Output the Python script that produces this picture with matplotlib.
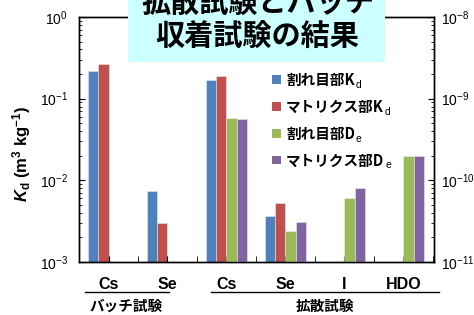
import matplotlib
matplotlib.use("Agg")
import matplotlib.pyplot as plt
import matplotlib.transforms as mtransforms
from matplotlib.patches import Rectangle
import numpy as np

plt.rcParams['font.family'] = ['Liberation Sans', 'Noto Sans CJK JP', 'DejaVu Sans']
plt.rcParams['mathtext.fontset'] = 'custom'
plt.rcParams['mathtext.rm'] = 'Liberation Sans'
plt.rcParams['mathtext.bf'] = 'Liberation Sans:bold'
plt.rcParams['mathtext.it'] = 'Liberation Sans:italic'
try:
    plt.rcParams['mathtext.bfit'] = 'Liberation Sans:bold:italic'
except KeyError:
    pass

CJK = ['Noto Sans CJK JP', 'DejaVu Sans']

# data
groups = ['Cs', 'Se', 'Cs', 'Se', 'I', 'HDO']
kd_fracture = [0.22, 0.0074, 0.17, 0.0037, np.nan, np.nan]
kd_matrix = [0.267, 0.0030, 0.19, 0.0052, np.nan, np.nan]
de_fracture = [np.nan, np.nan, 5.8e-10, 2.4e-11, 6.0e-11, 2.0e-10]
de_matrix = [np.nan, np.nan, 5.6e-10, 3.1e-11, 8.1e-11, 2.0e-10]
series_names = ['割れ目部K', 'マトリクス部K', '割れ目部D', 'マトリクス部D']
series_subs = ['d', 'd', 'e', 'e']
colors = ['#4F81BD', '#C0504D', '#9BBB59', '#8064A2']
test_names = ['バッチ試験', '拡散試験']

fig = plt.figure(figsize=(4.74, 3.15), dpi=100)
ax = fig.add_axes([0.1667, 0.1683, 0.749, 0.778])
ax2 = ax.twinx()

x = np.arange(len(groups))
w = 0.177
offs = [-1.5 * w, -0.5 * w, 0.5 * w, 1.5 * w]
edge = (1, 1, 1, 0.45)

ax.set_yscale('log')
ax2.set_yscale('log')
ax.bar(x + offs[0], kd_fracture, w, color=colors[0], edgecolor=edge, linewidth=0.6)
ax.bar(x + offs[1], kd_matrix, w, color=colors[1], edgecolor=edge, linewidth=0.6)
ax2.bar(x + offs[2], de_fracture, w, color=colors[2], edgecolor=edge, linewidth=0.6)
ax2.bar(x + offs[3], de_matrix, w, color=colors[3], edgecolor=edge, linewidth=0.6)

ax.set_ylim(1e-3, 1)
ax2.set_ylim(1e-11, 1e-8)
ax.set_xlim(-0.47, 5.52)

ax.set_xticks(x)
ax.set_xticklabels(groups, fontsize=11.5, fontweight='bold')
ax.set_xticks(np.arange(-0.5, 5.6, 0.5), minor=True)
ax.tick_params(axis='x', which='both', direction='in', length=4, pad=11)
ax.tick_params(axis='y', which='major', direction='in', length=4, labelsize=10, pad=8)
ax.tick_params(axis='y', which='minor', direction='in', length=2.5)
ax2.tick_params(axis='y', which='major', direction='in', length=4, labelsize=10, pad=5)
ax2.tick_params(axis='y', which='minor', direction='in', length=2.5)
for a in (ax, ax2):
    for s in a.spines.values():
        s.set_linewidth(1.0)

ax.set_ylabel(r'$\mathbfit{K}_{\mathbf{d}}\ \mathbf{(m^3\ kg^{-1})}$', fontsize=12)
ax.yaxis.set_label_coords(-0.13, 0.44)

# group brackets below the axis
trans = mtransforms.blended_transform_factory(ax.transData, fig.transFigure)
ax.plot([-0.405, 1.03], [0.074, 0.074], color='black', lw=1, transform=trans, clip_on=False)
ax.plot([1.74, 5.6], [0.074, 0.074], color='black', lw=1, transform=trans, clip_on=False)
ax.text(0.3, 0.03, test_names[0], transform=trans, ha='center', va='center',
        fontsize=10.5, fontweight='bold', family=CJK)
ax.text(3.67, 0.03, test_names[1], transform=trans, ha='center', va='center',
        fontsize=10.5, fontweight='bold', family=CJK)

# title box
fig.add_artist(Rectangle((128 / 474, 1 - 62 / 315), 257 / 474, 0.3, transform=fig.transFigure,
                         facecolor='#CCFFFF', edgecolor='none', zorder=5, clip_on=False))
fig.text(0.543, 0.992, '拡散試験とバッチ', ha='center', va='center', fontsize=21,
         fontweight='bold', family=CJK, zorder=6)
fig.text(0.543, 0.886, '収着試験の結果', ha='center', va='center', fontsize=21,
         fontweight='bold', family=CJK, zorder=6)

# legend built by hand (subscripts)
fig.canvas.draw()
renderer = fig.canvas.get_renderer()
for i, (name, sub, c) in enumerate(zip(series_names, series_subs, colors)):
    yc = 1 - (80 + 26.8 * i) / 315
    fig.add_artist(Rectangle((272 / 474, yc - 4 / 315), 8.5 / 474, 8.5 / 315,
                             transform=fig.transFigure, facecolor=c, edgecolor='none'))
    t = fig.text(286 / 474, yc, name, ha='left', va='center', fontsize=10.5,
                 fontweight='bold', family=CJK)
    bb = t.get_window_extent(renderer)
    fig.text(bb.x1 / 474 + 0.002, yc - 5 / 315, sub, ha='left', va='center',
             fontsize=7.5, family=['Liberation Sans'])

fig.savefig('out.png', dpi=100)
